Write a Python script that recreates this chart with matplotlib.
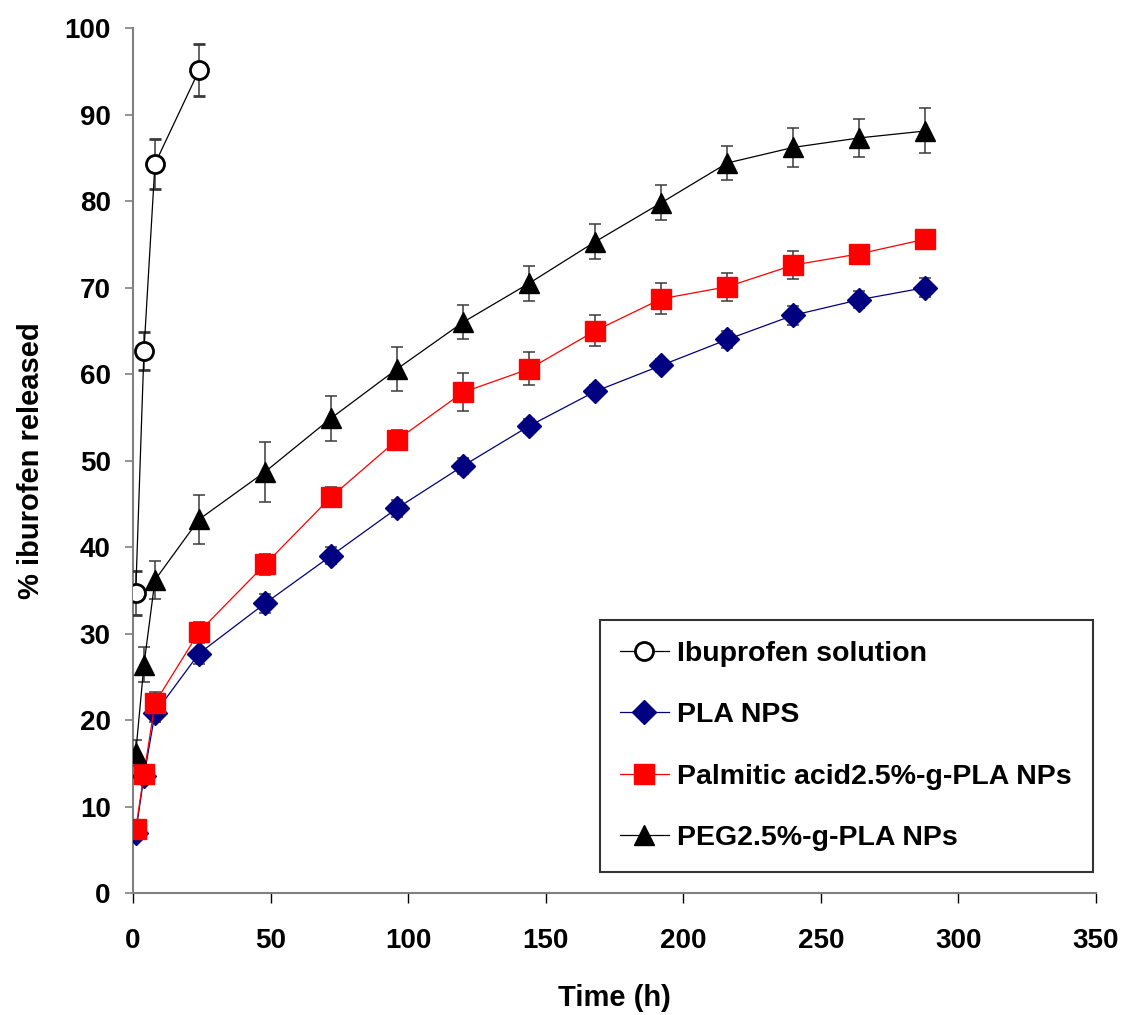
import numpy as np
import matplotlib.pyplot as plt

plt.rcParams['font.family'] = ['Liberation Sans', 'DejaVu Sans']
plt.rcParams['font.weight'] = 'bold'

# release data (time in h, % released, sd)
t_ibu = [1, 4, 8, 24]
ibu = [34.7, 62.7, 84.3, 95.1]
ibu_err = [2.5, 2.2, 2.9, 3.0]

t = [1, 4, 8, 24, 48, 72, 96, 120, 144, 168, 192, 216, 240, 264, 288]
pla = [7.0, 13.5, 20.8, 27.7, 33.5, 39.0, 44.5, 49.4, 54.0, 58.0, 61.0, 64.0, 66.8, 68.6, 70.0]
pla_err = [0.8, 0.8, 1.0, 1.2, 1.1, 1.0, 1.0, 0.9, 0.8, 0.7, 0.8, 1.0, 1.1, 1.0, 1.1]
palm = [7.4, 13.8, 22.0, 30.2, 38.0, 45.8, 52.4, 57.9, 60.6, 65.0, 68.7, 70.1, 72.6, 73.9, 75.6]
palm_err = [0.8, 1.0, 1.2, 1.2, 1.2, 1.2, 1.1, 2.2, 1.9, 1.8, 1.8, 1.6, 1.6, 1.0, 0.8]
peg = [16.2, 26.4, 36.2, 43.2, 48.7, 54.9, 60.6, 66.0, 70.5, 75.3, 79.8, 84.4, 86.2, 87.3, 88.1]
peg_err = [1.5, 2.0, 2.2, 2.8, 3.5, 2.6, 2.5, 2.0, 2.0, 2.0, 2.0, 2.0, 2.3, 2.2, 2.6]

fig = plt.figure(figsize=(11.23, 10.15), dpi=100)
ax = fig.add_axes([0.1184, 0.120, 0.8576, 0.8524])

ekw = dict(ecolor='#3a3a3a', elinewidth=1.1, capsize=4, capthick=1.1)

ax.errorbar(t_ibu, ibu, yerr=ibu_err, color='black', lw=0.9, marker='o', ms=13,
            mfc='white', mec='black', mew=2, label='Ibuprofen solution', zorder=3, **ekw)
ax.errorbar(t, pla, yerr=pla_err, color='#000080', lw=0.9, marker='D', ms=12.5,
            mfc='#000080', mec='#000080', label='PLA NPS', zorder=3, **ekw)
ax.errorbar(t, palm, yerr=palm_err, color='#ff0000', lw=0.9, marker='s', ms=14,
            mfc='#ff0000', mec='#ff0000', label='Palmitic acid2.5%-g-PLA NPs', zorder=3, **ekw)
ax.errorbar(t, peg, yerr=peg_err, color='black', lw=0.9, marker='^', ms=14.5,
            mfc='black', mec='black', label='PEG2.5%-g-PLA NPs', zorder=3, **ekw)

ax.set_xlim(0, 350)
ax.set_ylim(0, 100)
ax.set_xticks(np.arange(0, 351, 50))
ax.set_yticks(np.arange(0, 101, 10))
for s in ['top', 'right']:
    ax.spines[s].set_visible(False)
for s in ['left', 'bottom']:
    ax.spines[s].set_color('#808080')
    ax.spines[s].set_linewidth(1.5)
ax.tick_params(axis='y', labelsize=20, length=6, width=1.2, color='#808080', pad=10)
ax.tick_params(axis='x', labelsize=20, length=7, width=1.0, color='black', pad=18)
for lab in ax.get_xticklabels() + ax.get_yticklabels():
    lab.set_fontweight('bold')

ax.set_xlabel('Time (h)', fontsize=21, fontweight='bold', labelpad=22)
ax.set_ylabel('% iburofen released', fontsize=21, fontweight='bold', labelpad=14)

handles, labels = ax.get_legend_handles_labels()
handles = [h[0] for h in handles]
leg = ax.legend(handles, labels, loc='lower left', bbox_to_anchor=(0.485, 0.025, 0.512, 0.2975),
                mode='expand', borderaxespad=0, frameon=True, fancybox=False, edgecolor='black',
                borderpad=0.71, labelspacing=1.25, handlelength=1.7, handletextpad=0.3,
                prop={'weight': 'bold', 'size': 20.5})
leg.get_frame().set_linewidth(1.5)

plt.savefig('out.png', dpi=100)
